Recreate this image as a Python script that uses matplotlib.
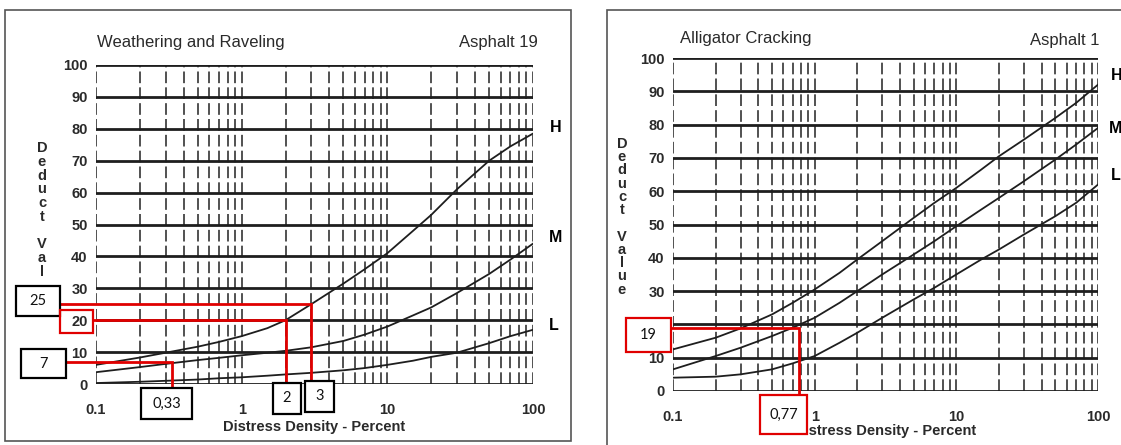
import matplotlib.pyplot as plt
from matplotlib.patches import Rectangle

# --- data ---
density = [0.1, 0.2, 0.3, 0.5, 0.7, 1, 1.5, 2, 3, 5, 7, 10, 15, 20, 30, 50, 70, 100]

# Weathering and Raveling (Asphalt 19)
wr_high = [6, 8.3, 9.8, 11.7, 13.2, 15, 17.5, 20, 25, 31.5, 36, 41, 48, 53, 61, 70, 74.5, 78.5]
wr_med = [3.7, 5.3, 6.3, 7.5, 8.2, 9, 9.8, 10.4, 11.5, 13.5, 15.5, 18, 21.5, 24, 28.5, 34.5, 39, 44]
wr_low = [0.3, 0.7, 1.0, 1.4, 1.8, 2.1, 2.6, 3.0, 3.5, 4.3, 5.0, 6.0, 7.3, 8.5, 9.8, 12.8, 15, 17]

# Alligator Cracking (Asphalt 1)
ac_high = [12.5, 16, 18.8, 23, 26.5, 30.5, 35.5, 39.5, 45, 52, 56.5, 61, 66.5, 70.5, 75.5, 82, 86.5, 92]
ac_med = [6.5, 10.5, 13, 16.5, 19, 22, 26.5, 30, 35, 41, 45, 49.5, 54.5, 58, 63, 69.5, 74, 79]
ac_low = [4, 4.3, 5, 6.5, 8.3, 10.5, 14.5, 17.5, 22, 27.5, 31, 35, 39.5, 42.5, 47, 52.5, 56.5, 62]

y_ticks = [0, 10, 20, 30, 40, 50, 60, 70, 80, 90, 100]
x_ticks = [0.1, 1, 10, 100]
x_tick_labels = ["0.1", "1", "10", "100"]

# annotation readings: (x value, y value, y box, x box)
wr_reads = [(3, 25, "25", "3"), (2, 20, "20", "2"), (0.33, 7, "7", "0,33")]
ac_reads = [(0.77, 19, "19", "0,77")]

W, H = 1121, 445
fig = plt.figure(figsize=(W / 100, H / 100), dpi=100)
FONT = "Liberation Sans"
INK = "#1e1e1e"
RED = "#e00000"


def px(x, y):
    return x / W, 1 - y / H


def make_axes(x0, y0, x1, y1, hide_labels=()):
    ax = fig.add_axes([x0 / W, 1 - y1 / H, (x1 - x0) / W, (y1 - y0) / H])
    ax.set_xscale("log")
    ax.set_xlim(0.1, 100)
    ax.set_ylim(0, 100)
    for s in ax.spines.values():
        s.set_visible(False)
    ax.patch.set_alpha(0)
    # vertical log grid
    for dec in [0.1, 1, 10]:
        for k in range(1, 10):
            ax.axvline(dec * k, color="#333333", lw=1.2, ls=(0, (7, 2.5)), zorder=1)
    ax.axvline(100, color="#333333", lw=1.2, ls=(0, (7, 2.5)), zorder=1)
    for yv in y_ticks:
        ax.axhline(yv, color=INK, lw=2.0, zorder=2)
    ax.set_yticks(y_ticks)
    ax.set_yticklabels(["" if v in hide_labels else str(v) for v in y_ticks],
                       fontsize=10.5, family=FONT, fontweight="bold", color="#2a2a2a")
    ax.set_xticks(x_ticks)
    ax.set_xticklabels(x_tick_labels, fontsize=10.5, family=FONT,
                       fontweight="bold", color="#2a2a2a")
    ax.minorticks_off()
    ax.tick_params(length=0, axis="y", pad=6)
    ax.tick_params(length=0, axis="x", pad=14)
    return ax


def box(x0, y0, x1, y1, text, edge, fill=True):
    fig.patches.append(Rectangle(px(x0, y1), (x1 - x0) / W, (y1 - y0) / H,
                                 transform=fig.transFigure,
                                 facecolor="white" if fill else "none",
                                 edgecolor=edge, lw=1.6, zorder=10))
    if text:
        cx, cy = px((x0 + x1) / 2, (y0 + y1) / 2)
        fig.text(cx, cy, text, ha="center", va="center", fontsize=10.5,
                 family="Lato", color="#111111", zorder=11)


def to_data(ax, x, y):
    return ax.transData.inverted().transform(fig.transFigure.transform(px(x, y)))


def read_line(ax, xv, yv, left_px, bottom_px):
    xs, _ = to_data(ax, left_px, 0)
    _, ys = to_data(ax, 0, bottom_px)
    ax.plot([xs, xv, xv], [yv, yv, ys], color=RED, lw=2.0,
            clip_on=False, zorder=8, solid_joinstyle="miter")


# panel frames
fig.patches.append(Rectangle(px(5, 441), 566 / W, 431 / H, transform=fig.transFigure,
                             facecolor="none", edgecolor="#555555", lw=1.2))
fig.patches.append(Rectangle(px(607, 460), 540 / W, 450 / H, transform=fig.transFigure,
                             facecolor="none", edgecolor="#555555", lw=1.2))

# ---- left chart ----
ax1 = make_axes(96, 65, 533, 384)
for ys in [wr_high, wr_med, wr_low]:
    ax1.plot(density, ys, color=INK, lw=1.3, zorder=3)
ax1.set_xlabel("Distress Density - Percent", fontsize=10.5, family=FONT,
               fontweight="bold", color="#2a2a2a", labelpad=2)
fig.text(*px(97, 43), "Weathering and Raveling", fontsize=12, family=FONT,
         color="#2a2a2a", va="center", ha="left")
fig.text(*px(538, 42), "Asphalt 19", fontsize=12, family=FONT,
         color="#2a2a2a", va="center", ha="right")
fig.text(*px(550, 127), "H", fontsize=11.5, family=FONT, fontweight="bold", va="center")
fig.text(*px(549, 237), "M", fontsize=11.5, family=FONT, fontweight="bold", va="center")
fig.text(*px(549, 326), "L", fontsize=11.5, family=FONT, fontweight="bold", va="center")
# lower letters of "Value" are hidden under the "25" box in the source
fig.text(*px(42, 141), "D\ne\nd\nu\nc\nt\n\nV\na\nl", fontsize=10.5, family=FONT,
         fontweight="bold", color="#2a2a2a", va="top", ha="center", linespacing=0.98)

# ---- right chart ----
ax2 = make_axes(673, 58, 1098, 391, hide_labels=(20,))
for ys in [ac_high, ac_med, ac_low]:
    ax2.plot(density, ys, color=INK, lw=1.3, zorder=3)
ax2.set_xlabel("Distress Density - Percent", fontsize=10.5, family=FONT,
               fontweight="bold", color="#2a2a2a", labelpad=0)
fig.text(*px(680, 39), "Alligator Cracking", fontsize=12, family=FONT,
         color="#2a2a2a", va="center", ha="left")
fig.text(*px(1100, 40), "Asphalt 1", fontsize=12, family=FONT,
         color="#2a2a2a", va="center", ha="right")
fig.text(*px(1111, 75), "H", fontsize=11.5, family=FONT, fontweight="bold", va="center")
fig.text(*px(1109, 128), "M", fontsize=11.5, family=FONT, fontweight="bold", va="center")
fig.text(*px(1111, 176), "L", fontsize=11.5, family=FONT, fontweight="bold", va="center")
fig.text(*px(622, 137), "D\ne\nd\nu\nc\nt\n\nV\na\nl\nu\ne", fontsize=10.5, family=FONT,
         fontweight="bold", color="#2a2a2a", va="top", ha="center", linespacing=0.93)

# ---- red reading lines and boxes ----
left_boxes = {
    "25": (16, 286, 60, 316, "black"),
    "20": (60, 310, 93, 333, RED),   # red frame around the existing tick label
    "7": (21, 349, 66, 378, "black"),
    "3": (305, 381, 334, 412, "black"),
    "2": (273, 383, 301, 414, "black"),
    "0,33": (141, 388, 192, 419, "black"),
}
for xv, yv, ylab, xlab in wr_reads:
    read_line(ax1, xv, yv, left_boxes[ylab][2], left_boxes[xlab][1])
for k, (x0, y0, x1, y1, ec) in left_boxes.items():
    if k == "20":
        box(x0, y0, x1, y1, None, ec, fill=False)
    else:
        box(x0, y0, x1, y1, k, ec)

right_boxes = {
    "19": (626, 318, 671, 352, RED),
    "0,77": (760, 395, 807, 434, RED),
}
for xv, yv, ylab, xlab in ac_reads:
    read_line(ax2, xv, yv, right_boxes[ylab][2], right_boxes[xlab][1])
for k, (x0, y0, x1, y1, ec) in right_boxes.items():
    box(x0, y0, x1, y1, k, ec)

fig.savefig("out.png", dpi=100, facecolor="white")
